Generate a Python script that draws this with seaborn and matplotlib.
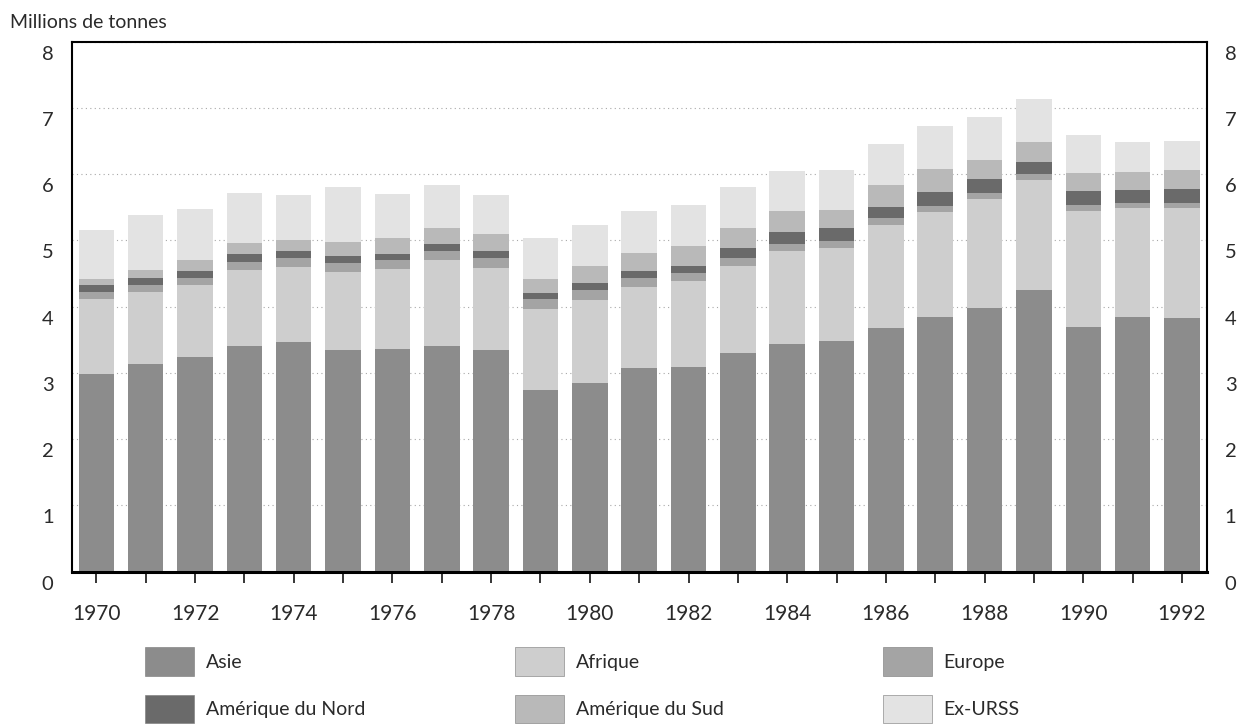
import matplotlib
matplotlib.use("Agg")
import matplotlib.pyplot as plt
import seaborn as sns
import pandas as pd
from matplotlib.transforms import ScaledTranslation
from matplotlib.patches import Patch

years = list(range(1970, 1993))
asie = [2.98, 3.14, 3.24, 3.41, 3.47, 3.34, 3.36, 3.41, 3.35, 2.74, 2.85, 3.07,
        3.09, 3.30, 3.43, 3.48, 3.68, 3.84, 3.98, 4.25, 3.70, 3.85, 3.83]
afrique = [1.13, 1.08, 1.08, 1.14, 1.13, 1.18, 1.21, 1.29, 1.24, 1.23, 1.25, 1.23,
           1.29, 1.31, 1.41, 1.41, 1.55, 1.59, 1.64, 1.66, 1.74, 1.64, 1.66]
europe = [0.11, 0.10, 0.11, 0.12, 0.13, 0.14, 0.13, 0.14, 0.14, 0.14, 0.15, 0.13,
          0.13, 0.13, 0.10, 0.10, 0.11, 0.09, 0.09, 0.09, 0.09, 0.08, 0.08]
amerique_nord = [0.10, 0.11, 0.11, 0.12, 0.11, 0.10, 0.10, 0.10, 0.11, 0.10, 0.11, 0.11,
                 0.11, 0.14, 0.19, 0.19, 0.17, 0.21, 0.21, 0.18, 0.21, 0.19, 0.20]
amerique_sud = [0.09, 0.12, 0.17, 0.17, 0.17, 0.22, 0.24, 0.24, 0.26, 0.20, 0.25, 0.27,
                0.29, 0.31, 0.31, 0.28, 0.33, 0.35, 0.30, 0.30, 0.28, 0.27, 0.30]
ex_urss = [0.75, 0.84, 0.77, 0.75, 0.67, 0.83, 0.66, 0.65, 0.59, 0.63, 0.62, 0.63,
           0.62, 0.62, 0.61, 0.61, 0.61, 0.64, 0.64, 0.65, 0.57, 0.45, 0.43]

series_names = ["Asie", "Afrique", "Europe", "Amérique du Nord", "Amérique du Sud", "Ex-URSS"]
series_colors = ["#8c8c8c", "#cecece", "#a4a4a4", "#6a6a6a", "#b9b9b9", "#e3e3e3"]
y_ticks = list(range(0, 9))
year_labels = [str(y) if y % 2 == 0 else "" for y in years]

sns.set_theme(style="white")
plt.rcParams["font.family"] = ["Lato", "DejaVu Sans"]

fig = plt.figure(figsize=(12.4, 7.24), dpi=100)
ax = fig.add_axes([0.0578, 0.2105, 0.9153, 0.7319])

df = pd.DataFrame({
    "year": [str(y) for y in years],
    "Asie": asie, "Afrique": afrique, "Europe": europe,
    "Amérique du Nord": amerique_nord, "Amérique du Sud": amerique_sud,
    "Ex-URSS": ex_urss,
})
cum = df[series_names].cumsum(axis=1)
cum["year"] = df["year"]

for name, color in reversed(list(zip(series_names, series_colors))):
    sns.barplot(data=cum, x="year", y=name, color=color, saturation=1,
                width=0.72, edgecolor="none", linewidth=0, ax=ax, zorder=2)

ax.set_xlim(-0.5, len(years) - 0.5)
ax.set_ylim(0, 8)
ax.set_yticks(y_ticks)
ax.set_yticklabels([str(v) for v in y_ticks])
ax.set_xticks(range(len(years)))
ax.set_xticklabels(year_labels)
ax.set_xlabel("")
ax.set_ylabel("")

ax.yaxis.grid(True, linestyle=(0, (1, 3)), color="#a8a8a8", linewidth=0.8)
ax.xaxis.grid(False)
ax.set_axisbelow(True)

for side, sp in ax.spines.items():
    sp.set_visible(True)
    sp.set_color("black")
    sp.set_linewidth(1.5)
ax.spines["bottom"].set_linewidth(2.2)

ax.tick_params(axis="y", which="both", length=0, left=True, right=True,
               labelleft=True, labelright=True, pad=13, labelsize=14.5,
               labelcolor="#2a2a2a")
ax.tick_params(axis="x", which="both", direction="out", length=8, width=1.1,
               color="black", bottom=True, pad=15, labelsize=15,
               labelcolor="#2a2a2a")

offset = ScaledTranslation(0, -11 / 100, fig.dpi_scale_trans)
for t in ax.yaxis.get_major_ticks():
    t.label1.set_transform(t.label1.get_transform() + offset)
    t.label2.set_transform(t.label2.get_transform() + offset)

fig.text(0.008, 0.981, "Millions de tonnes", fontsize=14, va="top", ha="left",
         color="#2a2a2a")

handles = [Patch(facecolor=c, edgecolor="#777777", linewidth=0.4) for c in series_colors]
col_x = [0.1169, 0.4153, 0.7121]
for i, x in enumerate(col_x):
    idx = [i, i + 3]
    leg = fig.legend([handles[j] for j in idx], [series_names[j] for j in idx],
                     loc="upper left", bbox_to_anchor=(x, 0.106),
                     bbox_transform=fig.transFigure,
                     frameon=False, fontsize=14, handlelength=2.5,
                     handleheight=1.9, labelspacing=0.95, handletextpad=0.62,
                     borderpad=0, borderaxespad=0)
    for txt in leg.get_texts():
        txt.set_color("#2a2a2a")

fig.savefig("out.png", dpi=100)
